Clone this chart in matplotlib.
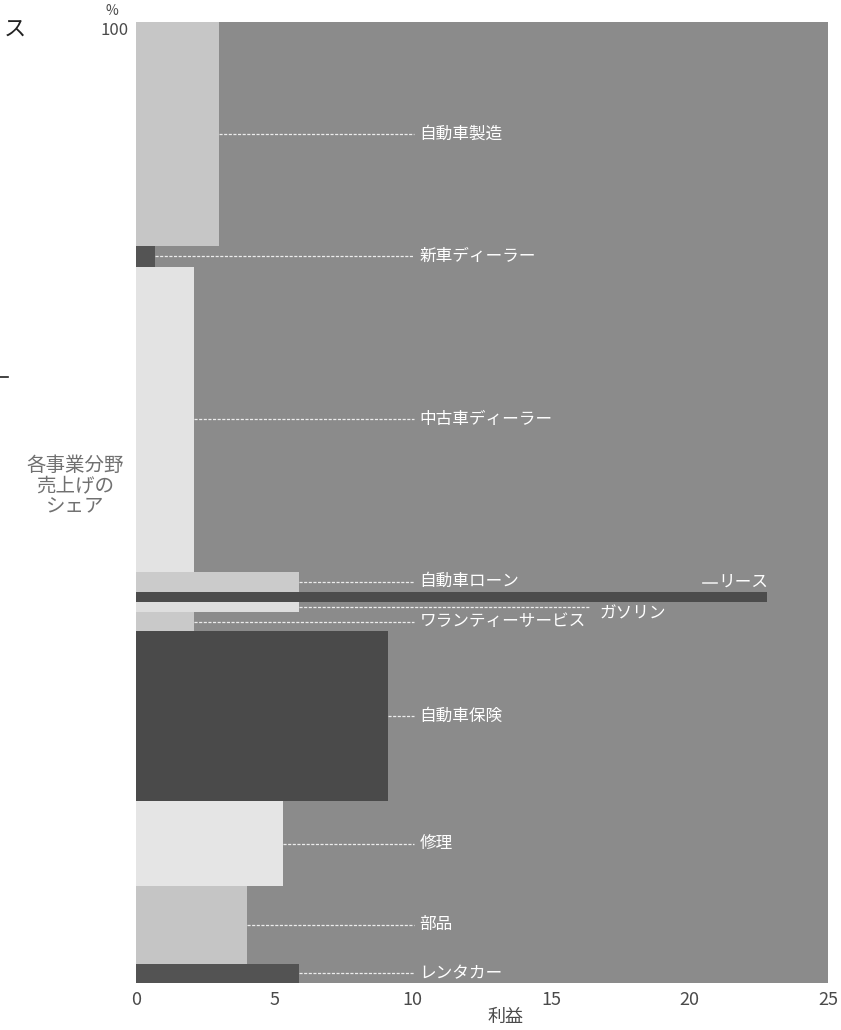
import matplotlib
matplotlib.use('Agg')
import matplotlib.pyplot as plt
import numpy as np

plt.rcParams['font.family'] = ['Noto Sans CJK JP', 'DejaVu Sans']

# business segments, top to bottom
segments = ['自動車製造', '新車ディーラー', '中古車ディーラー', '自動車ローン', 'リース',
            'ガソリン', 'ワランティーサービス', '自動車保険', '修理', '部品', 'レンタカー']
# share of sales (%) -> bar height
shares = [23.3, 2.2, 31.7, 2.1, 1.1, 1.0, 2.0, 17.7, 8.8, 8.1, 2.0]
# operating profit margin (%) -> bar width
profits = [3.0, 0.7, 2.1, 5.9, 22.8, 5.9, 2.1, 9.1, 5.3, 4.0, 5.9]
shades = ['#c6c6c6', '#545454', '#e3e3e3', '#cbcbcb', '#4c4c4c',
          '#dedede', '#c9c9c9', '#4a4a4a', '#e5e5e5', '#c5c5c5', '#535353']

xticks = [0, 5, 10, 15, 20, 25]

fig = plt.figure(figsize=(8.41, 10.30), dpi=100)
ax = fig.add_axes([136 / 841, 1 - 983 / 1030, 692 / 841, 961 / 1030])
ax.set_facecolor('#8b8b8b')

# stack segments from the top (100%) downwards
tops = 100 - np.concatenate([[0], np.cumsum(shares)[:-1]])
centers = tops - np.array(shares) / 2
ax.barh(centers, profits, height=shares, left=0, color=shades, linewidth=0)

ax.set_xlim(0, 25)
ax.set_ylim(0, 100)
for s in ax.spines.values():
    s.set_visible(False)

ax.set_xticks(xticks)
ax.set_xticklabels([str(t) for t in xticks], fontsize=13, color='#4a4a4a')
ax.tick_params(axis='x', length=0, pad=6)
ax.set_yticks([100])
ax.set_yticklabels(['100'], fontsize=12, color='#4a4a4a', va='top')
ax.tick_params(axis='y', length=0, pad=5)
ax.text(-0.025, 1.004, '%', transform=ax.transAxes, ha='right', va='bottom',
        fontsize=10, color='#4a4a4a')

# leader lines and labels
label_x = 10.05
line_style = dict(color='#ececec', linewidth=0.9, linestyle=(0, (2.5, 1.2)))
text_style = dict(color='white', fontsize=12, va='center')
for name, c, p in zip(segments, centers, profits):
    if name == 'リース':
        ax.plot([20.5, 21.0], [c + 1.5, c + 1.5], color='#ececec', linewidth=1.2)
        ax.text(21.05, c + 1.6, name, **text_style)
    elif name == 'ガソリン':
        ax.plot([p, 16.4], [c, c], **line_style)
        ax.text(16.75, c - 0.7, name, **text_style)
    else:
        ax.plot([p, label_x], [c, c], **line_style)
        ax.text(label_x + 0.2, c, name, **text_style)

# y-axis title and x-axis title
fig.text(75 / 841, 1 - 486 / 1030, '各事業分野\n売上げの\nシェア', ha='center', va='center',
         multialignment='center', fontsize=14, color='#707070', linespacing=1.0)
fig.text(505 / 841, 1 - 1017 / 1030, '利益', ha='center', va='center',
         fontsize=13, color='#4a4a4a')

# fragments of neighbouring page text
fig.text(4 / 841, 1 - 30 / 1030, 'ス', ha='left', va='center', fontsize=16, color='#222222')
fig.add_artist(plt.Line2D([0, 8 / 841], [1 - 377 / 1030] * 2, color='#222222', linewidth=1.2))

fig.savefig('out.png', dpi=100, facecolor='white')
